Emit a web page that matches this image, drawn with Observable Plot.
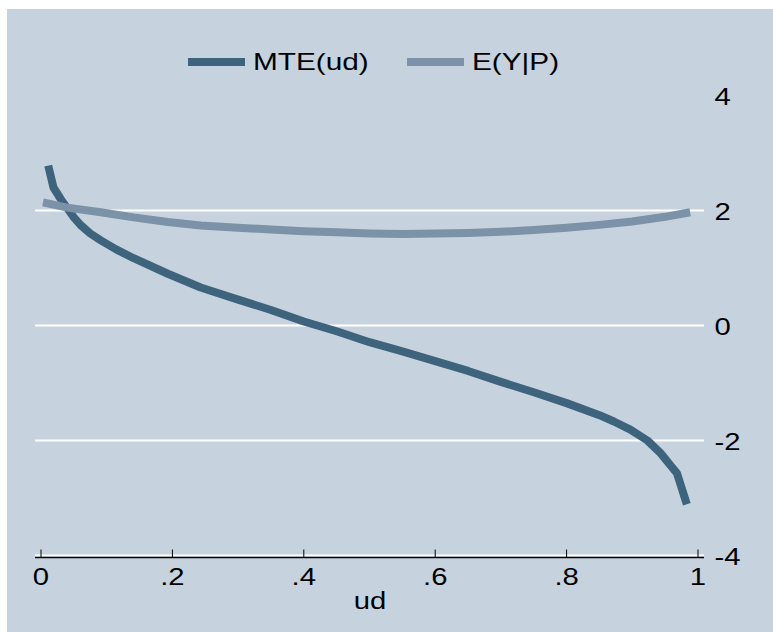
<!DOCTYPE html>
<html>
<head>
<meta charset="utf-8">
<script src="https://cdn.jsdelivr.net/npm/d3@7"></script>
<script src="https://cdn.jsdelivr.net/npm/@observablehq/plot@0.6"></script>
<style>
  html, body { margin: 0; padding: 0; background: #ffffff; }
  #wrap { position: relative; width: 773px; height: 632px; overflow: hidden; font-family: Arial, "Liberation Sans", Helvetica, sans-serif; }
  #bg { position: absolute; left: 7px; top: 9px; right: 0; bottom: 0; background: #c6d3df; }
  #legend { position: absolute; left: 0; top: 0; width: 773px; height: 85px; }
  .item { position: absolute; top: 47px; height: 30px; display: flex; align-items: center; font-size: 24px; color: #000; white-space: nowrap; }
  .sw { width: 57px; height: 8px; margin-right: 8px; flex: none; }
  .lt { display: inline-block; transform: scaleX(1.24); transform-origin: 0 50%; }
  #chart { position: absolute; left: 0; top: 85px; }
</style>
</head>
<body>
<div id="wrap">
  <div id="bg"></div>
  <div id="legend"></div>
  <div id="chart"></div>
</div>
<script>
// ---- data ----
const seriesNames = ["MTE(ud)", "E(Y|P)"];
const seriesColors = ["#3e647d", "#7b92a8"];

const mteUd  = [0.011, 0.019, 0.03, 0.04, 0.05, 0.06, 0.075, 0.091, 0.115, 0.141, 0.193, 0.243, 0.30, 0.35, 0.40, 0.45, 0.50, 0.55, 0.60, 0.65, 0.70, 0.75, 0.80, 0.85, 0.872, 0.897, 0.923, 0.943, 0.958, 0.968, 0.983];
const mteVal = [2.78, 2.40, 2.20, 2.04, 1.88, 1.75, 1.60, 1.48, 1.32, 1.17, 0.90, 0.66, 0.45, 0.27, 0.07, -0.10, -0.29, -0.45, -0.62, -0.79, -0.98, -1.16, -1.35, -1.56, -1.67, -1.81, -2.00, -2.22, -2.43, -2.57, -3.11];

const eypUd  = [0.003, 0.04, 0.091, 0.141, 0.193, 0.243, 0.30, 0.35, 0.40, 0.45, 0.50, 0.55, 0.60, 0.65, 0.70, 0.75, 0.80, 0.85, 0.90, 0.95, 0.988];
const eypVal = [2.14, 2.05, 1.97, 1.88, 1.80, 1.74, 1.70, 1.67, 1.64, 1.62, 1.60, 1.59, 1.60, 1.61, 1.63, 1.66, 1.70, 1.75, 1.81, 1.89, 1.97];

const xTicks = [0, 0.2, 0.4, 0.6, 0.8, 1];
const xTickLabels = ["0", ".2", ".4", ".6", ".8", "1"];
const yTicks = [-4, -2, 0, 2, 4];
const yGrid = [-4, -2, 0, 2];
const xLabel = "ud";
const textStretch = 1.22;

// ---- build ----
const mte = mteUd.map((u, i) => ({ud: u, v: mteVal[i]}));
const eyp = eypUd.map((u, i) => ({ud: u, v: eypVal[i]}));

const legend = document.getElementById("legend");
const lefts = [188, 407];
seriesNames.forEach((n, i) => {
  const it = document.createElement("div");
  it.className = "item";
  it.style.left = lefts[i] + "px";
  const sw = document.createElement("span");
  sw.className = "sw";
  sw.style.background = seriesColors[i];
  const tx = document.createElement("span");
  tx.className = "lt";
  tx.textContent = n;
  it.appendChild(sw);
  it.appendChild(tx);
  legend.appendChild(it);
});

const fmtY = d => (d < 0 ? "-" + Math.abs(d) : String(d));

const plot = Plot.plot({
  width: 773,
  height: 547,
  marginTop: 10,
  marginBottom: 77,
  marginLeft: 35,
  marginRight: 69,
  style: { background: "transparent", fontFamily: "Arial, 'Liberation Sans', sans-serif", fontSize: "23px", color: "#000" },
  x: { domain: [0, 1], insetLeft: 5.5, insetRight: 6.5 },
  y: { domain: [-4, 4] },
  marks: [
    Plot.gridY(yGrid, { stroke: "#ffffff", strokeOpacity: 1, strokeWidth: 2 }),
    Plot.ruleY([-4], { stroke: "#000", strokeWidth: 1.3, dy: 2 }),
    Plot.ruleX(xTicks, { x: d => d, y1: -4, y2: -3.87, stroke: "#000", strokeWidth: 1, dy: 2 }),
    Plot.axisX(xTicks, { tickSize: 0, tickPadding: 12, tickFormat: (d, i) => xTickLabels[i], fontSize: 24, label: null }),
    Plot.axisY(yTicks, { anchor: "right", tickSize: 0, tickPadding: 10, tickFormat: fmtY, fontSize: 24, dy: 2, label: null }),
    Plot.text([xLabel], { text: d => d, frameAnchor: "bottom", lineAnchor: "bottom", dy: 53, fontSize: 24 }),
    Plot.line(mte, { x: "ud", y: "v", stroke: seriesColors[0], strokeWidth: 8, strokeLinecap: "butt", strokeLinejoin: "round" }),
    Plot.line(eyp, { x: "ud", y: "v", stroke: seriesColors[1], strokeWidth: 8, strokeLinecap: "butt", strokeLinejoin: "round" })
  ]
});
// widen glyphs horizontally (the reference text is stretched), keeping each label's anchor
plot.querySelectorAll("text").forEach(t => {
  const tr = t.getAttribute("transform");
  if (tr) t.setAttribute("transform", tr + ` scale(${textStretch},1)`);
});
document.getElementById("chart").appendChild(plot);
</script>
</body>
</html>
